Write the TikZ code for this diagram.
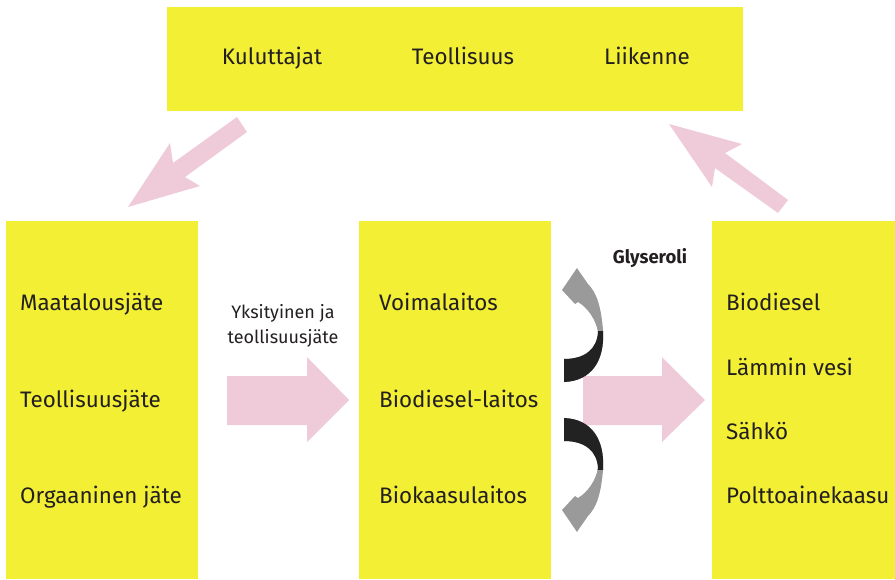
\documentclass[tikz,border=0pt]{standalone}
\usepackage{fontspec}
\setmainfont{Fira Sans}
\begin{document}
\begin{tikzpicture}[x=1pt,y=-1pt,
  panel/.style={fill=boxyellow,draw=none},
  item/.style={anchor=base west,inner sep=0pt,font=\fontsize{22.4}{26}\selectfont,text=inkblack},
  topitem/.style={anchor=base,inner sep=0pt,font=\fontsize{22.4}{26}\selectfont,text=inkblack},
  flow/.style={fill=arrowpink,draw=none},
  small/.style={anchor=base,inner sep=0pt,font=\fontsize{18}{22}\selectfont,text=inkblack}]
\definecolor{boxyellow}{HTML}{F2EF35}
\definecolor{arrowpink}{HTML}{EFCAD9}
\definecolor{curvegray}{HTML}{9A9A9A}
\definecolor{curveblack}{HTML}{222222}
\definecolor{inkblack}{HTML}{231F20}
\useasboundingbox (0,0) rectangle (895,579);

% panels
\fill[panel] (167,7) rectangle (743,111);
\fill[panel] (6,221) rectangle (198,579);
\fill[panel] (359,221) rectangle (551,579);
\fill[panel] (712,221) rectangle (895,579);

% top row
\node[topitem] (kul) at (272,64) {Kuluttajat};
\node[topitem] (teo) at (463,64) {Teollisuus};
\node[topitem] (lii) at (647,64) {Liikenne};

% sources
\node[item] (maa) at (20,310) {Maatalousjäte};
\node[item] (tjate) at (20,407) {Teollisuusjäte};
\node[item] (org) at (20,503) {Orgaaninen jäte};

% plants
\node[item] (voi) at (379,310) {Voimalaitos};
\node[item] (bdl) at (379,407) {Biodiesel-laitos};
\node[item] (bkl) at (379,503) {Biokaasulaitos};

% products
\node[item] (bd) at (726,310) {Biodiesel};
\node[item] (lv) at (726,375) {Lämmin vesi};
\node[item] (sa) at (726,439) {Sähkö};
\node[item] (pk) at (726,503) {Polttoainekaasu};

% labels
\node[small] (yks1) at (283,318) {Yksityinen ja};
\node[small] (yks2) at (283,343) {teollisuusjäte};
\node[small,font=\fontsize{18.5}{22}\selectfont\bfseries] (gly) at (650,263) {Glyseroli};

% block arrows
\fill[flow] (227,376) -- (307,376) -- (307,357) -- (349,400) -- (307,442) -- (307,425) -- (227,425) -- cycle;
\fill[flow] (583,376) -- (662,376) -- (662,357) -- (705,400) -- (662,442) -- (662,425) -- (583,425) -- cycle;
\fill[flow] (237,117) -- (247,132) -- (185,177) -- (200,186) -- (128,207) -- (170,143) -- (173,163) -- cycle;
\fill[flow] (669,124) -- (742,144) -- (725,153) -- (788,200) -- (778,213) -- (715,168) -- (712,187) -- cycle;

% curved glycerol arrows: black tail, grey head
\def\upperarrow{%
  (564,382) .. controls (592,381) and (605,360) .. (603,330)
  .. controls (601,305) and (596,292) .. (588,284)
  .. controls (584,278) and (580,273) .. (577,268)
  -- (562,290) -- (575,304) -- (578,302)
  .. controls (588,308) and (596,320) .. (598,332)
  .. controls (597,349) and (585,359) .. (564,359) -- cycle}
\def\lowerarrow{%
  (564,418) .. controls (592,419) and (605,440) .. (603,470)
  .. controls (601,495) and (596,508) .. (588,516)
  .. controls (584,522) and (580,527) .. (577,532)
  -- (562,510) -- (575,496) -- (578,498)
  .. controls (588,492) and (596,480) .. (598,468)
  .. controls (597,451) and (585,441) .. (564,441) -- cycle}
\fill[curvegray] \upperarrow;
\begin{scope}
  \clip (550,331) rectangle (620,390);
  \fill[curveblack] \upperarrow;
\end{scope}
\fill[curvegray] \lowerarrow;
\begin{scope}
  \clip (550,410) rectangle (620,469);
  \fill[curveblack] \lowerarrow;
\end{scope}
\end{tikzpicture}
\end{document}
